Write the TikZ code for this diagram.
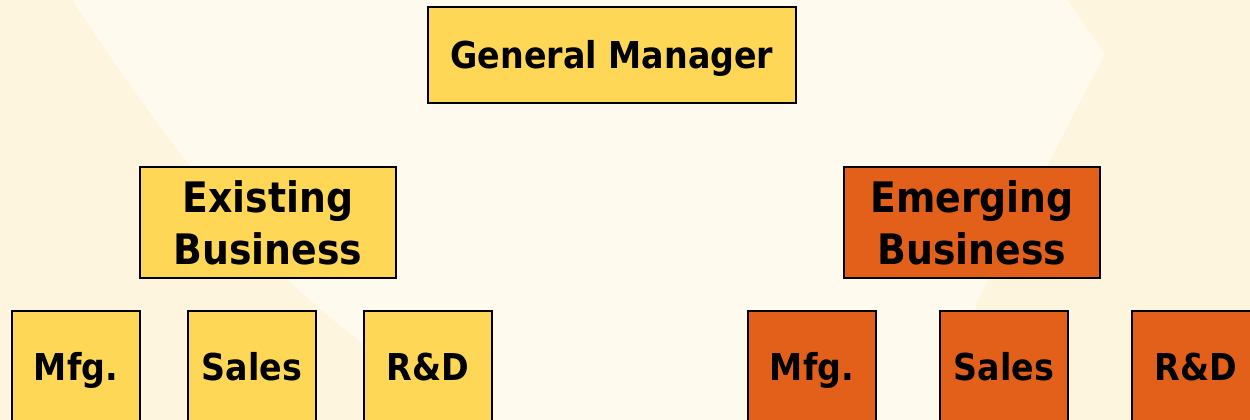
\documentclass[tikz,border=0pt]{standalone}
\usepackage{fontspec}
\setmainfont{DejaVu Sans Condensed}
\definecolor{bglight}{HTML}{FFFAEE}
\definecolor{bgdark}{HTML}{FEF5DF}
\definecolor{boxyellow}{HTML}{FFD757}
\definecolor{boxorange}{HTML}{E26019}
\tikzset{
  orgbox/.style={draw=black, line width=2pt, rectangle, inner sep=0pt, align=center, text=black},
  yelbox/.style={orgbox, fill=boxyellow},
  orabox/.style={orgbox, fill=boxorange},
  gmfont/.style={font=\fontsize{37}{44}\selectfont\bfseries, text height=27pt, text depth=0pt},
  bizfont/.style={font=\fontsize{42}{52}\selectfont\bfseries},
  unitfont/.style={font=\fontsize{37}{44}\selectfont\bfseries, text height=27pt, text depth=0pt},
  unitbox/.style={minimum width=128pt, minimum height=111pt, unitfont},
  bizbox/.style={minimum width=256pt, minimum height=111pt, bizfont},
}
\begin{document}
\begin{tikzpicture}[x=1pt,y=-1pt]
\useasboundingbox (0,0) rectangle (1250,420);
\clip (0,0) rectangle (1250,420);
% background
\fill[bglight] (0,0) rectangle (1250,420);
\fill[bgdark] (0,0) -- (72,0) .. controls (125,80) and (190,175) .. (290,282)
  .. controls (340,330) and (400,370) .. (460,420) -- (0,420) -- cycle;
\fill[bgdark] (1067,0) -- (1105,54) -- (978,300) .. controls (968,330) and (960,380) .. (955,420)
  -- (1250,420) -- (1250,0) -- cycle;
% nodes
\node[yelbox, minimum width=368pt, minimum height=96pt, gmfont] (gm) at (612,55) {General Manager};
\node[yelbox, bizbox] (exist) at (268,222.5) {Existing\\Business};
\node[orabox, bizbox] (emerg) at (972,222.5) {Emerging\\Business};
\node[yelbox, unitbox] (emfg) at (76,366.5) {Mfg.};
\node[yelbox, unitbox] (esales) at (252,366.5) {Sales};
\node[yelbox, unitbox] (erd) at (428,366.5) {R\&D};
\node[orabox, unitbox] (nmfg) at (812,366.5) {Mfg.};
\node[orabox, unitbox] (nsales) at (1004,366.5) {Sales};
\node[orabox, unitbox] (nrd) at (1196,366.5) {R\&D};
\end{tikzpicture}
\end{document}
